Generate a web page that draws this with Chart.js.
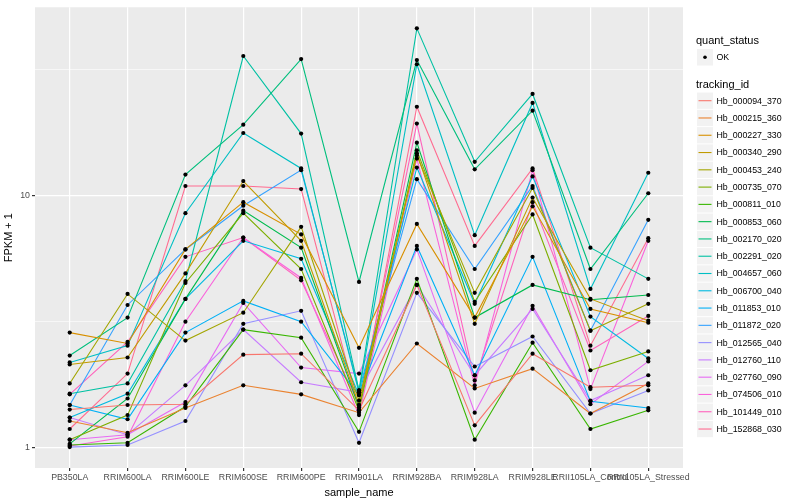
<!DOCTYPE html>
<html>
<head>
<meta charset="utf-8">
<script src="https://cdn.jsdelivr.net/npm/chart.js@4.4.0/dist/chart.umd.min.js"></script>
<style>
  html, body { margin: 0; padding: 0; background: #fff; }
  #wrap { width: 800px; height: 500px; }
</style>
</head>
<body>
<div id="wrap"><canvas id="chart"></canvas></div>
<script>
// samples on the x axis
const samples = ['PB350LA', 'RRIM600LA', 'RRIM600LE', 'RRIM600SE', 'RRIM600PE', 'RRIM901LA',
  'RRIM928BA', 'RRIM928LA', 'RRIM928LE', 'RRII105LA_Control', 'RRII105LA_Stressed'];

// y axis (log) breaks
const yMajor = [1, 10];
const yMinor = [3.1623, 31.623];

// FPKM + 1 per tracking_id, one value per sample
const hb_000094_370 = [1.41, 1.47, 1.48, 2.33, 2.35, 1.40, 4.41, 1.22, 2.35, 1.73, 1.76];
const hb_000215_360 = [1.27, 1.14, 1.43, 1.76, 1.62, 1.37, 2.58, 1.71, 2.05, 1.36, 1.79];
const hb_000227_330 = [2.85, 2.58, 6.1, 9.4, 7.0, 2.48, 7.7, 3.27, 9.05, 3.54, 3.12];
const hb_000340_290 = [2.13, 2.27, 4.9, 11.4, 6.6, 1.47, 14.7, 3.09, 9.8, 3.88, 3.18];
const hb_000453_240 = [1.79, 4.06, 2.65, 3.42, 7.5, 1.53, 14.4, 4.1, 10.7, 2.90, 3.71];
const hb_000735_070 = [1.07, 1.34, 4.49, 8.5, 5.1, 1.40, 15.1, 3.78, 8.4, 2.02, 2.40];
const hb_000811_010 = [1.02, 1.04, 1.45, 2.93, 2.72, 1.15, 4.66, 1.07, 2.60, 1.18, 1.40];
const hb_000853_060 = [1.03, 1.56, 3.88, 8.7, 6.2, 1.44, 16.2, 3.27, 4.41, 3.85, 4.02];
const hb_002170_020 = [2.31, 3.27, 12.1, 19.1, 34.8, 4.53, 34.5, 12.7, 21.7, 5.1, 10.2];
const hb_002291_020 = [1.63, 1.79, 4.57, 35.8, 17.6, 1.68, 46.1, 13.6, 25.3, 6.2, 4.66];
const hb_004657_060 = [2.17, 2.53, 8.5, 17.7, 12.8, 1.65, 33.2, 6.95, 23.3, 4.25, 12.3];
const hb_006700_040 = [1.31, 1.63, 3.88, 6.6, 5.6, 1.61, 12.9, 3.71, 11.9, 3.30, 2.25];
const hb_011853_010 = [1.47, 1.29, 2.85, 3.81, 3.15, 1.61, 6.3, 1.93, 5.7, 1.52, 1.43];
const hb_011872_020 = [1.47, 3.67, 6.1, 9.1, 12.6, 1.68, 11.6, 5.1, 10.9, 2.90, 8.0];
const hb_012565_040 = [1.00, 1.02, 1.27, 3.09, 3.48, 1.04, 4.1, 2.09, 2.75, 1.36, 1.68];
const hb_012760_110 = [1.31, 1.12, 1.76, 2.93, 1.81, 1.65, 4.41, 1.93, 3.54, 1.53, 1.93];
const hb_027760_090 = [1.07, 1.12, 1.51, 3.74, 2.07, 1.96, 6.1, 1.37, 3.64, 1.48, 2.19];
const hb_074506_010 = [1.01, 1.10, 3.15, 6.8, 4.7, 1.34, 14.0, 1.76, 12.6, 1.70, 6.6];
const hb_101449_010 = [1.62, 2.62, 5.7, 6.8, 4.6, 1.47, 19.3, 1.84, 9.4, 2.42, 3.32];
const hb_152868_030 = [1.18, 1.96, 10.9, 10.9, 10.6, 1.41, 22.5, 6.3, 12.8, 2.53, 6.76];

const trackingIds = ['Hb_000094_370', 'Hb_000215_360', 'Hb_000227_330', 'Hb_000340_290', 'Hb_000453_240',
  'Hb_000735_070', 'Hb_000811_010', 'Hb_000853_060', 'Hb_002170_020', 'Hb_002291_020',
  'Hb_004657_060', 'Hb_006700_040', 'Hb_011853_010', 'Hb_011872_020', 'Hb_012565_040',
  'Hb_012760_110', 'Hb_027760_090', 'Hb_074506_010', 'Hb_101449_010', 'Hb_152868_030'];
const seriesValues = [hb_000094_370, hb_000215_360, hb_000227_330, hb_000340_290, hb_000453_240,
  hb_000735_070, hb_000811_010, hb_000853_060, hb_002170_020, hb_002291_020,
  hb_004657_060, hb_006700_040, hb_011853_010, hb_011872_020, hb_012565_040,
  hb_012760_110, hb_027760_090, hb_074506_010, hb_101449_010, hb_152868_030];

// ggplot default hue palette for 20 levels
const colors = ['#F8766D', '#EA8331', '#D89000', '#C09B00', '#A3A500', '#7CAE00', '#39B600', '#00BB4E',
  '#00BF7D', '#00C1A3', '#00BFC4', '#00BAE0', '#00B0F6', '#35A2FF', '#9590FF', '#C77CFF',
  '#E76BF3', '#FA62DB', '#FF62BC', '#FF6C91'];

const FONT = '"Liberation Sans", Arial, sans-serif';

const lineSets = seriesValues.map((vals, k) => ({
  label: trackingIds[k],
  data: vals.map((v, i) => ({ x: i, y: v })),
  borderColor: colors[k],
  borderWidth: 1.1,
  pointRadius: 0,
  showLine: true,
  order: 2
}));
const pointSets = seriesValues.map((vals, k) => ({
  label: trackingIds[k] + ' OK',
  data: vals.map((v, i) => ({ x: i, y: v })),
  showLine: false,
  pointRadius: 2.1,
  pointBackgroundColor: '#000',
  pointBorderWidth: 0,
  order: 1
}));

// grey panel behind the grid
const panelBg = {
  id: 'panelBg',
  beforeDraw(chart) {
    const a = chart.chartArea, c = chart.ctx;
    c.save();
    c.fillStyle = '#EBEBEB';
    c.fillRect(a.left, a.top, a.right - a.left, a.bottom - a.top);
    c.restore();
  }
};

// ggplot style legend on the right
const ggLegend = {
  id: 'ggLegend',
  afterDraw(chart) {
    const c = chart.ctx;
    c.save();
    c.textBaseline = 'middle';
    c.fillStyle = '#000';
    c.font = '11px ' + FONT;
    c.fillText('quant_status', 696, 41);
    c.fillStyle = '#F2F2F2';
    c.fillRect(697, 49, 16, 16.5);
    c.fillStyle = '#000';
    c.beginPath(); c.arc(705, 57.2, 1.8, 0, Math.PI * 2); c.fill();
    c.font = '8.8px ' + FONT;
    c.fillText('OK', 716.5, 57.5);

    c.font = '11px ' + FONT;
    c.fillText('tracking_id', 696, 84.5);
    const step = 17.28;
    trackingIds.forEach((id, i) => {
      const cy = 100.7 + i * step;
      c.fillStyle = '#F2F2F2';
      c.fillRect(697, cy - step / 2 + 0.5, 16, step - 1);
      c.strokeStyle = colors[i];
      c.lineWidth = 1.1;
      c.beginPath(); c.moveTo(698.5, cy); c.lineTo(711.5, cy); c.stroke();
      c.fillStyle = '#000';
      c.font = '8.8px ' + FONT;
      c.fillText(id, 716.5, cy + 0.5);
    });
    c.restore();
  }
};

const isMajor = v => yMajor.some(m => Math.abs(m - v) < 1e-6);

new Chart(document.getElementById('chart'), {
  type: 'scatter',
  data: { datasets: lineSets.concat(pointSets) },
  options: {
    responsive: true,
    maintainAspectRatio: false,
    animation: false,
    layout: { padding: { left: 0, right: 117, top: 3, bottom: 0 } },
    plugins: { legend: { display: false }, tooltip: { enabled: false } },
    scales: {
      x: {
        type: 'linear',
        min: -0.6,
        max: 10.6,
        afterBuildTicks: s => { s.ticks = samples.map((_, i) => ({ value: i })); },
        afterFit: s => { s.height = 32; },
        ticks: {
          autoSkip: false, maxRotation: 0, minRotation: 0,
          callback: v => samples[v],
          color: '#4D4D4D', font: { family: FONT, size: 8.8 }, padding: 1
        },
        grid: { color: '#FFFFFF', lineWidth: 1.2, tickLength: 3, tickColor: '#333333', drawOnChartArea: true },
        border: { display: false },
        title: { display: true, text: 'sample_name', color: '#000', font: { family: FONT, size: 11 }, padding: { top: 0, bottom: 0 } }
      },
      y: {
        type: 'logarithmic',
        min: 0.826,
        max: 55.9,
        afterBuildTicks: s => {
          s.ticks = yMajor.concat(yMinor).sort((a, b) => a - b).map(v => ({ value: v }));
        },
        afterFit: s => { s.width = 35; },
        ticks: {
          callback: v => isMajor(v) ? String(Math.round(v)) : '',
          color: '#4D4D4D', font: { family: FONT, size: 8.8 }, padding: 2
        },
        grid: {
          color: '#FFFFFF',
          lineWidth: ctx => isMajor(ctx.tick.value) ? 1.2 : 0.6,
          tickLength: 3,
          tickColor: ctx => isMajor(ctx.tick.value) ? '#333333' : 'rgba(0,0,0,0)'
        },
        border: { display: false },
        title: { display: true, text: 'FPKM + 1', color: '#000', font: { family: FONT, size: 11 }, padding: { top: 2, bottom: 2 } }
      }
    }
  },
  plugins: [panelBg, ggLegend]
});
</script>
</body>
</html>
